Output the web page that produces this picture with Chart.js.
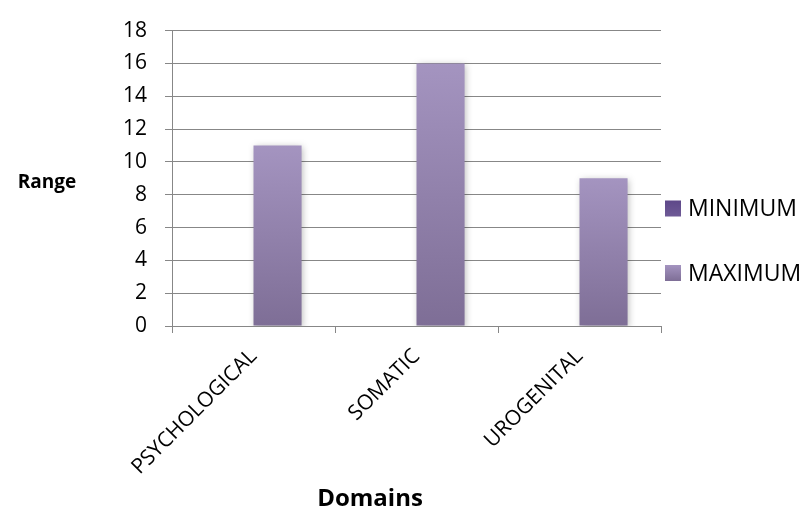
<!DOCTYPE html>
<html>
<head>
<meta charset="utf-8">
<script src="https://cdn.jsdelivr.net/npm/chart.js@4.4.1/dist/chart.umd.min.js"></script>
<style>
    html, body { margin: 0; padding: 0; background: #fff; }
    #wrap { width: 809px; height: 516px; }
</style>
</head>
<body>
<div id="wrap"><canvas id="chart" width="809" height="516"></canvas></div>
<script>
    const domains = ["PSYCHOLOGICAL", "SOMATIC", "UROGENITAL"];
    const minimumValues = [0, 0, 0];
    const maximumValues = [11, 16, 9];
    const seriesNames = ["MINIMUM", "MAXIMUM"];

    const font = "'Open Sans', sans-serif";
    const gridGray = "#878787";

    // top/bottom colours of each series' fill
    const shades = {
        MINIMUM: ["#5e4889", "#6e5a96"],
        MAXIMUM: ["#a494c0", "#7e6e96"]
    };

    const barGradient = (ctx, name, top, bottom) => {
        const g = ctx.createLinearGradient(0, top, 0, bottom);
        g.addColorStop(0, shades[name][0]);
        g.addColorStop(1, shades[name][1]);
        return g;
    };

    const fillFor = (name) => (context) => {
        const chart = context.chart;
        if (!chart.chartArea || context.parsed === undefined) {
            return shades[name][1];
        }
        const y = chart.scales.y;
        const top = y.getPixelForValue(context.parsed.y);
        const bottom = y.getPixelForValue(0);
        if (bottom - top < 1) {
            return shades[name][1];
        }
        return barGradient(chart.ctx, name, top, bottom);
    };

    // soft drop shadow behind the bars
    const barShadow = {
        id: "barShadow",
        beforeDatasetsDraw(chart) {
            const ctx = chart.ctx;
            ctx.save();
            ctx.shadowColor = "rgba(0,0,0,0.28)";
            ctx.shadowBlur = 7;
            ctx.shadowOffsetX = 1;
            ctx.shadowOffsetY = 2;
        },
        afterDatasetsDraw(chart) {
            chart.ctx.restore();
        }
    };

    // axis titles and the side legend
    const decorations = {
        id: "decorations",
        afterDraw(chart) {
            const ctx = chart.ctx;
            const area = chart.chartArea;
            ctx.save();
            ctx.fillStyle = "#000";
            ctx.textBaseline = "middle";

            ctx.font = "bold 19px " + font;
            ctx.textAlign = "center";
            ctx.fillText("Range", 47, (area.top + area.bottom) / 2 + 4);

            ctx.font = "bold 24px " + font;
            ctx.fillText("Domains", 370, 499);

            ctx.font = "23px " + font;
            ctx.textAlign = "left";
            const boxX = area.right + 4;
            const boxSize = 16;
            const centers = [208.5, 273];
            chart.data.datasets.forEach((ds, i) => {
                const cy = centers[i];
                ctx.fillStyle = barGradient(ctx, ds.label, cy - boxSize / 2, cy + boxSize / 2);
                ctx.fillRect(boxX, cy - boxSize / 2, boxSize, boxSize);
                ctx.fillStyle = "#000";
                ctx.fillText(ds.label, boxX + 23, cy + 1);
            });
            ctx.restore();
        }
    };

    new Chart(document.getElementById("chart"), {
        type: "bar",
        data: {
            labels: domains,
            datasets: [
                {
                    label: seriesNames[0],
                    data: minimumValues,
                    backgroundColor: fillFor(seriesNames[0]),
                    borderWidth: 0
                },
                {
                    label: seriesNames[1],
                    data: maximumValues,
                    backgroundColor: fillFor(seriesNames[1]),
                    borderWidth: 0
                }
            ]
        },
        options: {
            responsive: false,
            animation: false,
            categoryPercentage: 0.59,
            barPercentage: 1,
            layout: {
                padding: { top: 23, right: 148, bottom: 0, left: 0 }
            },
            plugins: {
                legend: { display: false },
                tooltip: { enabled: false }
            },
            scales: {
                x: {
                    afterFit: (scale) => { scale.height = 190; },
                    grid: {
                        offset: true,
                        drawOnChartArea: false,
                        drawTicks: true,
                        tickLength: 7,
                        color: gridGray,
                        lineWidth: 1
                    },
                    border: { color: gridGray, width: 1 },
                    ticks: {
                        minRotation: 45,
                        maxRotation: 45,
                        padding: 11,
                        color: "#000",
                        font: { family: font, size: 21 }
                    }
                },
                y: {
                    min: 0,
                    max: 18,
                    afterFit: (scale) => { scale.width = 172; },
                    grid: {
                        tickLength: 7,
                        color: gridGray,
                        lineWidth: 1
                    },
                    border: { color: gridGray, width: 1 },
                    ticks: {
                        stepSize: 2,
                        padding: 18,
                        color: "#000",
                        font: { family: font, size: 21 }
                    }
                }
            }
        },
        plugins: [barShadow, decorations]
    });
</script>
</body>
</html>
